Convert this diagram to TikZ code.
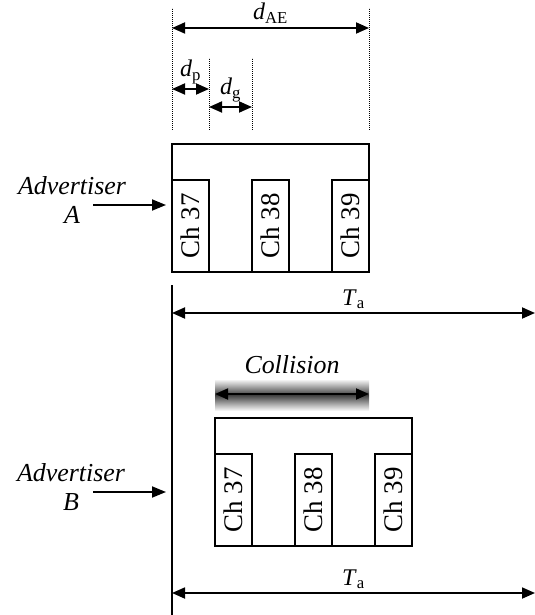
\documentclass[tikz,border=0pt]{standalone}
\usepackage{fontspec}
\setmainfont{Liberation Serif}
\usepackage{tikz}
\usetikzlibrary{arrows.meta, positioning, calc}

\begin{document}
\begin{tikzpicture}[
    x=1bp, y=1bp,
    frame/.style={rectangle, draw, line width=1.3bp, minimum width=197bp, minimum height=128bp, inner sep=0pt, outer sep=0pt},
    chan/.style={rectangle, draw, line width=1.3bp, fill=white, minimum width=37bp, minimum height=92bp, inner sep=0pt, outer sep=0pt, font=\fontsize{27}{30}\selectfont},
    tag/.style={font=\fontsize{26}{30}\selectfont\itshape, align=center, inner sep=0pt},
    dimlabel/.style={font=\fontsize{24}{27}\selectfont, inner sep=0pt},
    arrow/.style={-{Triangle[length=14bp, width=11bp]}, line width=1.8bp},
    dim/.style={{Triangle[length=13bp, width=11bp]}-{Triangle[length=13bp, width=11bp]}, line width=1.8bp},
    guide/.style={line width=1bp, dash pattern=on 1bp off 1bp}
]
    \useasboundingbox (0,0) rectangle (535,-615);

    % ============================================================
    % ADVERTISER A
    % ============================================================
    \node[frame, anchor=north west] (frameA) at (172,-144) {};
    \node[chan, anchor=south west] (chA37) at (frameA.south west) {\rotatebox{90}{Ch 37}};
    \node[chan, right=43bp of chA37] (chA38) {\rotatebox{90}{Ch 38}};
    \node[chan, right=43bp of chA38] (chA39) {\rotatebox{90}{Ch 39}};

    \node[tag] (advA) at (72,-200) {Advertiser\\A};
    \coordinate (tailA) at (93,-205);
    \draw[arrow, shorten >=6bp] (tailA) -- (tailA -| frameA.west);

    % dotted guides
    \draw[guide] ([yshift=14bp]frameA.north west) -- ++(0,122);
    \draw[guide] ([yshift=14bp]frameA.north east) -- ++(0,122);
    \draw[guide] ([yshift=14bp]frameA.north -| chA37.east) -- ++(0,72);
    \draw[guide] ([yshift=14bp]frameA.north -| chA38.west) -- ++(0,72);

    % dimensions
    \draw[dim] ([yshift=116bp]frameA.north west) -- ([yshift=116bp]frameA.north east)
        node[dimlabel, midway, above=4bp] (lblAE) {\textit{d}\textsubscript{AE}};
    \draw[dim] ([yshift=55bp]frameA.north west) -- ([yshift=55bp]frameA.north -| chA37.east)
        node[dimlabel, midway, above=4bp] (lblP) {\textit{d}\textsubscript{p}};
    \draw[dim] ([yshift=37bp]frameA.north -| chA37.east) -- ([yshift=37bp]frameA.north -| chA38.west)
        node[dimlabel, midway, above=4bp] (lblG) {\textit{d}\textsubscript{g}};

    % ============================================================
    % TIME AXIS
    % ============================================================
    \coordinate (axisTop) at ([yshift=-13bp]frameA.south west);
    \coordinate (axisBot) at (172,-615);
    \draw[line width=1.3bp] (axisTop) -- (axisBot);

    \coordinate (taEndA) at (535,-313);
    \draw[dim] (axisTop |- taEndA) -- (taEndA)
        node[dimlabel, midway, above=3bp] (lblTa1) {\textit{T}\textsubscript{a}};

    % ============================================================
    % ADVERTISER B
    % ============================================================
    \node[frame, anchor=north west] (frameB) at (215,-418) {};
    \node[chan, anchor=south west] (chB37) at (frameB.south west) {\rotatebox{90}{Ch 37}};
    \node[chan, right=43bp of chB37] (chB38) {\rotatebox{90}{Ch 38}};
    \node[chan, right=43bp of chB38] (chB39) {\rotatebox{90}{Ch 39}};

    \node[tag] (advB) at (71,-487) {Advertiser\\B};
    \coordinate (tailB) at (93,-492);
    \draw[arrow, shorten >=6bp] (tailB) -- (tailB -| axisTop);

    \coordinate (taEndB) at (535,-593);
    \draw[dim] (axisTop |- taEndB) -- (taEndB)
        node[dimlabel, midway, above=3bp] (lblTa2) {\textit{T}\textsubscript{a}};

    % collision band
    \shade[top color=black!5, bottom color=black!5, middle color=black!75]
        ([yshift=8bp]frameB.north west) rectangle ([yshift=38bp]frameB.north west -| frameA.east);
    \draw[dim] ([yshift=24bp]frameB.north west) -- ([yshift=24bp]frameB.north west -| frameA.east)
        node[tag, midway, above=19bp] (collision) {Collision};

\end{tikzpicture}
\end{document}
